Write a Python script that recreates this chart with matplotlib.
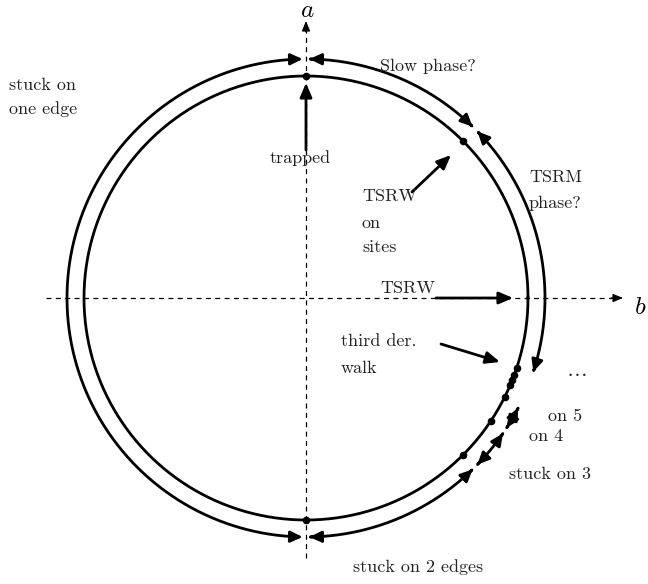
import numpy as np
import matplotlib.pyplot as plt
from matplotlib.patches import FancyArrowPatch
from matplotlib.path import Path

plt.rcParams['font.family'] = 'cmr10'
plt.rcParams['mathtext.fontset'] = 'cm'
plt.rcParams['axes.unicode_minus'] = False

# diagram is drawn in pixel units of the 648x584 picture (y downwards)
cx, cy = 306, 298
r_in, r_out = 222, 239

# fixed points on the inner circle (degrees, counter-clockwise from b axis)
dot_angles = [90, 45, -90, -45, -33.7, -26.6, -23.0, -21.6, -20.3, -18.4]
# flows on the outer circle: (start, end) in degrees, arrow heads on both ends
flow_arcs = [(90, 270), (45, 90), (-18.8, 45), (-90, -45), (-45, -33.7), (-33.7, -26.6)]
gap = 0.8

# labels: text, left x, baseline y
labels = ['Slow phase?', 'TSRM', 'phase?', 'stuck on', 'one edge', 'trapped',
          'TSRW', 'on', 'sites', 'TSRW', 'third der.', 'walk', r'$\ldots$',
          'on 5', 'on 4', 'stuck on 3', 'stuck on 2 edges']
label_x = [380, 529, 529, 9, 9, 270, 362, 362, 362, 380, 341, 341, 566,
           548, 529, 509, 353]
label_y = [71, 182, 208, 90, 114, 163, 201, 228, 252, 293, 346, 373, 376,
           421, 441, 479, 572]

# straight arrows: (tail, tip)
pointers = [((306, 150), (306, 83)),
            ((412, 192), (451, 155)),
            ((436, 298), (513, 298)),
            ((441, 344), (500, 362))]


def circ(r, deg):
    t = np.radians(deg)
    return cx + r * np.cos(t), cy - r * np.sin(t)


fig = plt.figure(figsize=(6.48, 5.84), dpi=100)
ax = fig.add_axes([0, 0, 1, 1])
ax.set_xlim(0, 648)
ax.set_ylim(584, 0)
ax.axis('off')

# axes a and b
ax.plot([46, 613], [cy, cy], color='k', lw=0.9, dashes=(4, 3.5))
ax.plot([cx, cx], [558, 30], color='k', lw=0.9, dashes=(4, 3.5))
ax.annotate('', xy=(623, cy), xytext=(611, cy),
            arrowprops=dict(arrowstyle='-|>,head_length=0.6,head_width=0.25',
                            color='k', lw=0.9, shrinkA=0, shrinkB=0))
ax.annotate('', xy=(cx, 21), xytext=(cx, 32),
            arrowprops=dict(arrowstyle='-|>,head_length=0.6,head_width=0.25',
                            color='k', lw=0.9, shrinkA=0, shrinkB=0))
ax.text(cx + 1, 17, '$a$', fontsize=18, ha='center', va='baseline')
ax.text(634, 314, '$b$', fontsize=18, ha='left', va='baseline')

# inner circle with its fixed points
t = np.linspace(0, 360, 721)
xs, ys = circ(r_in, t)
ax.plot(xs, ys, color='k', lw=2)
dx, dy = circ(r_in, np.array(dot_angles))
ax.scatter(dx, dy, s=20, color='k', zorder=3)

# outer flows
for a0, a1 in flow_arcs:
    t = np.linspace(a0 + gap, a1 - gap, 200)
    xs, ys = circ(r_out, t)
    path = Path(np.column_stack([xs, ys]))
    ax.add_patch(FancyArrowPatch(path=path,
                                 arrowstyle='<|-|>,head_length=0.6,head_width=0.28',
                                 color='k', lw=2, mutation_scale=12))

for (x0, y0), (x1, y1) in pointers:
    ax.annotate('', xy=(x1, y1), xytext=(x0, y0),
                arrowprops=dict(arrowstyle='-|>,head_length=0.7,head_width=0.3',
                                color='k', lw=2, mutation_scale=12,
                                shrinkA=0, shrinkB=0))

for s, x, y in zip(labels, label_x, label_y):
    fs = 15 if s.startswith('$') else 13
    ax.text(x, y, s, fontsize=fs, ha='left', va='baseline', color='#222222')

fig.savefig('out.png', dpi=100)
